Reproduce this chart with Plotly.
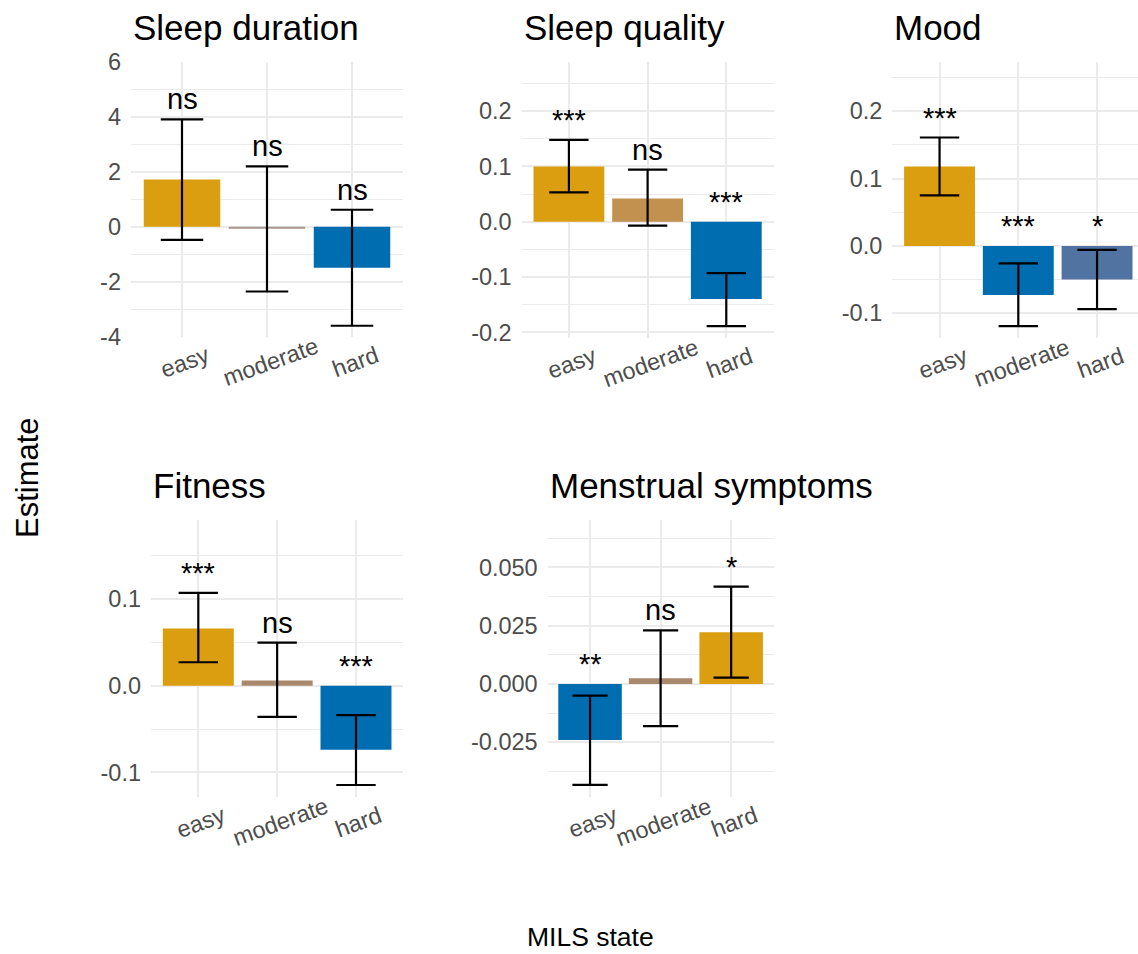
import plotly.graph_objects as go

# categories of the MILS state (x axis of every panel)
categories = ["easy", "moderate", "hard"]

# Sleep duration
sd_est = [1.72, -0.05, -1.49]
sd_lo = [-0.48, -2.36, -3.61]
sd_hi = [3.92, 2.20, 0.62]
sd_sig = ["ns", "ns", "ns"]
sd_ticks = [-4, -2, 0, 2, 4, 6]

# Sleep quality
sq_est = [0.100, 0.042, -0.140]
sq_lo = [0.053, -0.007, -0.189]
sq_hi = [0.148, 0.094, -0.093]
sq_sig = ["***", "ns", "***"]
sq_ticks = [-0.2, -0.1, 0.0, 0.1, 0.2]

# Mood
mo_est = [0.118, -0.073, -0.050]
mo_lo = [0.075, -0.119, -0.094]
mo_hi = [0.161, -0.026, -0.006]
mo_sig = ["***", "***", "*"]
mo_ticks = [-0.1, 0.0, 0.1, 0.2]

# Fitness
fi_est = [0.066, 0.006, -0.074]
fi_lo = [0.027, -0.036, -0.1145]
fi_hi = [0.107, 0.0496, -0.034]
fi_sig = ["***", "ns", "***"]
fi_ticks = [-0.1, 0.0, 0.1]

# Menstrual symptoms
ms_est = [-0.024, 0.0024, 0.0222]
ms_lo = [-0.0433, -0.0181, 0.0027]
ms_hi = [-0.005, 0.023, 0.0417]
ms_sig = ["**", "ns", "*"]
ms_ticks = [-0.025, 0.0, 0.025, 0.05]

W, H = 1138, 954
FONT = "Liberation Sans, Arial, sans-serif"
GRID = "#EBEBEB"

# panel boxes in pixels: left, right, top, bottom
panels = [
    dict(title="Sleep duration", est=sd_est, lo=sd_lo, hi=sd_hi, sig=sd_sig,
         ticks=sd_ticks, fmt="{:.0f}", minor=1,
         colors=["#DB9E11", "#A8968A", "#006DB0"],
         box=(131, 403, 61.7, 337), yr=[-4.02, 6.02], xr=[-0.6, 2.6]),
    dict(title="Sleep quality", est=sq_est, lo=sq_lo, hi=sq_hi, sig=sq_sig,
         ticks=sq_ticks, fmt="{:.1f}", minor=0.05,
         colors=["#DB9E11", "#C29150", "#006DB0"],
         box=(521.7, 773.5, 61.7, 338), yr=[-0.2103, 0.2893], xr=[-0.6, 2.6]),
    dict(title="Mood", est=mo_est, lo=mo_lo, hi=mo_hi, sig=mo_sig,
         ticks=mo_ticks, fmt="{:.1f}", minor=0.05,
         colors=["#DB9E11", "#006DB0", "#5073A1"],
         box=(892.3, 1138, 61.7, 337.7), yr=[-0.1363, 0.2736], xr=[-0.6, 2.52]),
    dict(title="Fitness", est=fi_est, lo=fi_lo, hi=fi_hi, sig=fi_sig,
         ticks=fi_ticks, fmt="{:.1f}", minor=0.05,
         colors=["#DB9E11", "#A8896B", "#006DB0"],
         box=(151, 403.3, 520, 797.3), yr=[-0.1287, 0.191], xr=[-0.6, 2.6]),
    dict(title="Menstrual symptoms", est=ms_est, lo=ms_lo, hi=ms_hi, sig=ms_sig,
         ticks=ms_ticks, fmt="{:.3f}", minor=0.0125,
         colors=["#006DB0", "#A8896B", "#DB9E11"],
         box=(547.7, 773.5, 520, 797.3), yr=[-0.0486, 0.0703], xr=[-0.6, 2.6]),
]

fig = go.Figure()
annotations = []

for i, p in enumerate(panels, start=1):
    sfx = "" if i == 1 else str(i)
    l, r, t, b = p["box"]
    px_per_unit = (r - l) / (p["xr"][1] - p["xr"][0])

    fig.add_trace(go.Bar(
        x=categories, y=p["est"], width=0.9,
        marker=dict(color=p["colors"], line=dict(width=0)),
        error_y=dict(type="data", symmetric=False,
                     array=[h - e for h, e in zip(p["hi"], p["est"])],
                     arrayminus=[e - lo for e, lo in zip(p["est"], p["lo"])],
                     color="black", thickness=2.2, width=0.25 * px_per_unit),
        xaxis="x" + sfx, yaxis="y" + sfx, showlegend=False,
    ))

    fig.update_layout(**{
        "xaxis" + sfx: dict(domain=[l / W, r / W], anchor="y" + sfx,
                            type="category", range=p["xr"], automargin=False,
                            showgrid=True, gridcolor=GRID, gridwidth=1.8,
                            showticklabels=False, ticks="", zeroline=False,
                            showline=False, fixedrange=True),
        "yaxis" + sfx: dict(domain=[1 - b / H, 1 - t / H], anchor="x" + sfx,
                            range=p["yr"], tickvals=p["ticks"], automargin=False,
                            ticktext=[p["fmt"].format(v) for v in p["ticks"]],
                            showgrid=True, gridcolor=GRID, gridwidth=1.8,
                            minor=dict(dtick=p["minor"], tick0=0, showgrid=True,
                                       gridcolor=GRID, gridwidth=0.9),
                            zeroline=False, showline=False, ticks="",
                            ticklabelstandoff=9,
                            tickfont=dict(size=23.5, color="#4D4D4D", family=FONT)),
    })

    # panel title
    annotations.append(dict(text=p["title"], xref="paper", yref="paper",
                            x=l / W, y=1 - (t - 13) / H, xanchor="left", yanchor="bottom",
                            showarrow=False, font=dict(size=35, color="black", family=FONT)))

    # rotated category labels
    for c in categories:
        annotations.append(dict(text=c, xref="x" + sfx, yref="y" + sfx + " domain",
                                x=c, y=0, xshift=3, yshift=-25, textangle=-20,
                                xanchor="center", yanchor="middle", showarrow=False,
                                font=dict(size=23.5, color="#4D4D4D", family=FONT)))

    # significance labels: placed above the error bar, or above zero for negative bars
    for c, h, s in zip(categories, p["hi"], p["sig"]):
        annotations.append(dict(text=s, xref="x" + sfx, yref="y" + sfx,
                                x=c, y=max(h, 0), yanchor="bottom", yshift=2, showarrow=False,
                                font=dict(size=29, color="black", family=FONT)))

annotations.append(dict(text="Estimate", xref="paper", yref="paper", x=28 / W, y=1 - 478 / H,
                        textangle=-90, showarrow=False, xanchor="center", yanchor="middle",
                        font=dict(size=31, color="black", family=FONT)))
annotations.append(dict(text="MILS state", xref="paper", yref="paper", x=590 / W, y=1 - 937 / H,
                        showarrow=False, xanchor="center", yanchor="middle",
                        font=dict(size=26.5, color="black", family=FONT)))

fig.update_layout(
    template="none",
    width=W, height=H,
    margin=dict(l=0, r=0, t=0, b=0, pad=0, autoexpand=False),
    paper_bgcolor="white", plot_bgcolor="white",
    font=dict(family=FONT),
    bargap=0.1,
    annotations=annotations,
)

fig.write_html("out.html", config={"displayModeBar": False},
               post_script="document.body.style.margin='0px';")
